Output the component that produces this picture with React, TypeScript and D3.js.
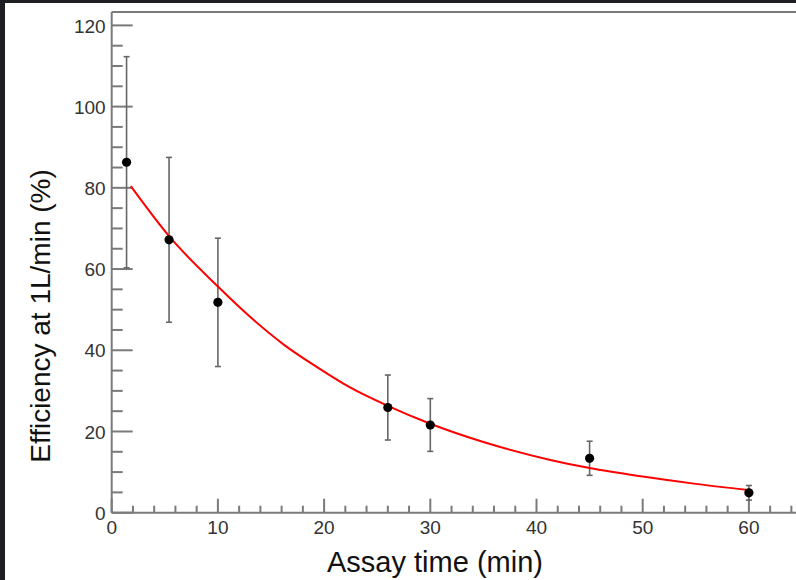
import { curveMonotoneX, line, range, scaleLinear } from "d3";

const WIDTH = 796;
const HEIGHT = 580;

// measured points with symmetric error bars
const assayTimes = [1.4, 5.4, 10, 26, 30, 45, 60];
const efficiencies = [86.3, 67.2, 51.8, 25.9, 21.6, 13.4, 4.9];
const errors = [26, 20.3, 15.8, 8, 6.5, 4.2, 1.8];

// fitted curve
const fitTimes = [1.8, 5.4, 10, 13, 16.2, 19.3, 22.4, 26, 30, 35, 41.3, 45, 50, 55, 60];
const fitValues = [80.4, 68.1, 55.7, 48.3, 41.4, 35.9, 30.9, 26.3, 21.9, 17.4, 13.0, 11.0, 8.9, 7.1, 5.6];

const xMajorTicks = [0, 10, 20, 30, 40, 50, 60];
const yMajorTicks = [0, 20, 40, 60, 80, 100, 120];

const AXIS = "#7a7a7a";
const LABEL = "#333";
const FONT = "'Liberation Sans', Arial, sans-serif";

export default function App() {
  const x = scaleLinear().domain([0, 66]).range([111.7, 111.7 + 66 * 10.62]);
  const y = scaleLinear().domain([0, 123.3]).range([512.7, 12]);

  const x0 = x(0);
  const y0 = y(0);

  const xMinor = range(0, 66, 2).filter((v) => v % 10 !== 0);
  const yMinor = range(0, 123, 5).filter((v) => v % 20 !== 0);

  const fitPath =
    line<number>()
      .x((d) => x(d))
      .y((_, i) => y(fitValues[i]))
      .curve(curveMonotoneX)(fitTimes) ?? "";

  return (
    <div style={{ position: "absolute", left: 0, top: 0 }}>
      <svg width={WIDTH} height={HEIGHT} style={{ display: "block" }} fontFamily={FONT}>
        <rect x={0} y={0} width={WIDTH} height={HEIGHT} fill="#fff" />
        <rect x={0} y={0} width={WIDTH} height={3} fill="#1e1f23" />
        <rect x={0} y={0} width={5} height={HEIGHT} fill="#1e1f23" />

        {/* frame */}
        <line x1={x0} x2={WIDTH} y1={y(123.3)} y2={y(123.3)} stroke={AXIS} strokeWidth={2} />
        <line x1={x0} x2={x0} y1={y(123.3)} y2={y0} stroke={AXIS} strokeWidth={2} />
        <line x1={x0} x2={WIDTH} y1={y0} y2={y0} stroke={AXIS} strokeWidth={2} />

        {/* y ticks */}
        {yMajorTicks.map((v) => (
          <g key={`ym${v}`}>
            <line x1={x0} x2={x0 + 21} y1={y(v)} y2={y(v)} stroke={AXIS} strokeWidth={2} />
            <text x={x0 - 6} y={y(v)} dy="0.38em" textAnchor="end" fontSize={19} fill={LABEL}>
              {v}
            </text>
          </g>
        ))}
        {yMinor.map((v) => (
          <line key={`yn${v}`} x1={x0} x2={x0 + 11} y1={y(v)} y2={y(v)} stroke={AXIS} strokeWidth={2} />
        ))}

        {/* x ticks */}
        {xMajorTicks.map((v) => (
          <g key={`xm${v}`}>
            <line x1={x(v)} x2={x(v)} y1={y0} y2={y0 - 14} stroke={AXIS} strokeWidth={2} />
            <text x={x(v)} y={534} textAnchor="middle" fontSize={19} fill={LABEL}>
              {v}
            </text>
          </g>
        ))}
        {xMinor.map((v) => (
          <line key={`xn${v}`} x1={x(v)} x2={x(v)} y1={y0} y2={y0 - 7} stroke={AXIS} strokeWidth={2} />
        ))}

        {/* error bars */}
        {assayTimes.map((t, i) => {
          const top = y(efficiencies[i] + errors[i]);
          const bottom = y(efficiencies[i] - errors[i]);
          return (
            <g key={`e${i}`} stroke="#666" strokeWidth={1.6}>
              <line x1={x(t)} x2={x(t)} y1={top} y2={bottom} />
              <line x1={x(t) - 3} x2={x(t) + 3} y1={top} y2={top} />
              <line x1={x(t) - 3} x2={x(t) + 3} y1={bottom} y2={bottom} />
            </g>
          );
        })}

        <path d={fitPath} fill="none" stroke="#ff0000" strokeWidth={2} />

        {assayTimes.map((t, i) => (
          <circle key={`p${i}`} cx={x(t)} cy={y(efficiencies[i])} r={4.6} fill="#000" />
        ))}

        <text x={435} y={572} textAnchor="middle" fontSize={29} fill="#111">
          Assay time (min)
        </text>
        <text
          transform="translate(50,316) rotate(-90)"
          textAnchor="middle"
          fontSize={28}
          fill="#111"
        >
          Efficiency at 1L/min (%)
        </text>
      </svg>
    </div>
  );
}
